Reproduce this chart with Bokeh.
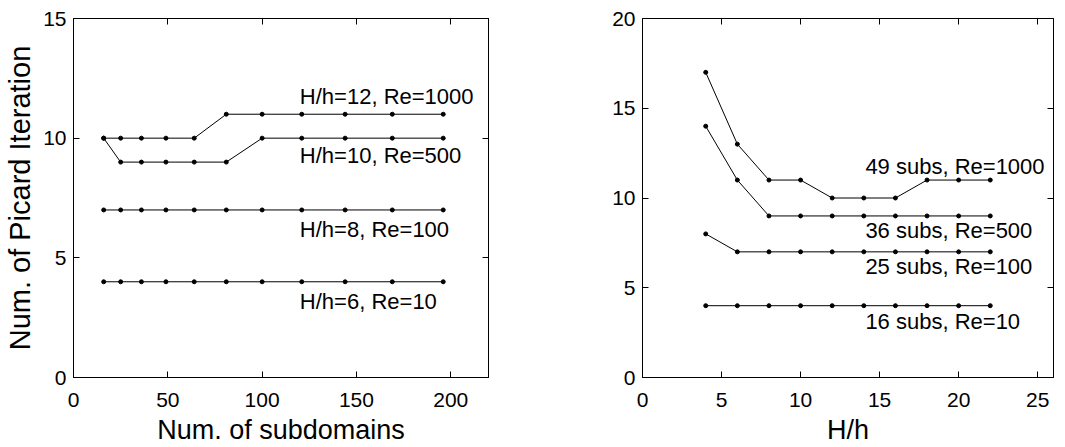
from bokeh.plotting import figure
from bokeh.layouts import row
from bokeh.models import LinearAxis, FixedTicker, Range1d, CustomJSTickFormatter
from bokeh.core.properties import value
from bokeh.embed import file_html
from bokeh.resources import INLINE

FONT = "Liberation Sans"

# Left panel: iterations vs number of subdomains
subdomains = [16, 25, 36, 49, 64, 81, 100, 121, 144, 169, 196]
left_series = {
    "H/h=12, Re=1000": [10, 10, 10, 10, 10, 11, 11, 11, 11, 11, 11],
    "H/h=10, Re=500": [10, 9, 9, 9, 9, 9, 10, 10, 10, 10, 10],
    "H/h=8, Re=100": [7, 7, 7, 7, 7, 7, 7, 7, 7, 7, 7],
    "H/h=6, Re=10": [4, 4, 4, 4, 4, 4, 4, 4, 4, 4, 4],
}
# label anchors (left edge, vertical middle) in data units
left_label_pos = {
    "H/h=12, Re=1000": (120, 11.75),
    "H/h=10, Re=500": (120, 9.27),
    "H/h=8, Re=100": (120, 6.17),
    "H/h=6, Re=10": (120, 3.17),
}

# Right panel: iterations vs H/h
hh = [4, 6, 8, 10, 12, 14, 16, 18, 20, 22]
right_series = {
    "49 subs, Re=1000": [17, 13, 11, 11, 10, 10, 10, 11, 11, 11],
    "36 subs, Re=500": [14, 11, 9, 9, 9, 9, 9, 9, 9, 9],
    "25 subs, Re=100": [8, 7, 7, 7, 7, 7, 7, 7, 7, 7],
    "16 subs, Re=10": [4, 4, 4, 4, 4, 4, 4, 4, 4, 4],
}
right_label_pos = {
    "49 subs, Re=1000": (14.1, 11.75),
    "36 subs, Re=500": (14.1, 8.19),
    "25 subs, Re=100": (14.1, 6.19),
    "16 subs, Re=10": (14.1, 3.14),
}

left_xticks = [0, 50, 100, 150, 200]
left_yticks = [0, 5, 10, 15]
right_xticks = [0, 5, 10, 15, 20, 25]
right_yticks = [0, 5, 10, 15, 20]

BLANK = CustomJSTickFormatter(code="return ''")


def style_axis(ax, ticks, show_labels=True):
    ax.ticker = FixedTicker(ticks=ticks)
    ax.major_tick_in = 6
    ax.major_tick_out = 0
    ax.minor_tick_in = 0
    ax.minor_tick_out = 0
    ax.axis_line_color = "black"
    ax.major_tick_line_color = "black"
    ax.major_label_text_font = FONT
    ax.major_label_text_font_size = "21px"
    ax.major_label_text_color = "black"
    ax.axis_label_text_font = FONT
    ax.axis_label_text_font_size = "27px"
    ax.axis_label_text_font_style = "normal"
    ax.axis_label_text_color = "black"
    if not show_labels:
        ax.formatter = BLANK
        ax.major_label_standoff = 0


def make_panel(x, series, label_pos, xr, yr, xticks, yticks, xlabel, ylabel,
               width, border_left, border_right):
    p = figure(width=width, height=447, output_backend="svg", toolbar_location=None,
               x_range=Range1d(*xr), y_range=Range1d(*yr),
               min_border_left=border_left, min_border_right=border_right,
               min_border_top=18, min_border_bottom=69)
    p.xgrid.visible = False
    p.ygrid.visible = False
    p.outline_line_color = "black"
    p.outline_line_width = 1
    p.background_fill_color = "white"
    p.border_fill_color = "white"

    style_axis(p.xaxis[0], xticks)
    style_axis(p.yaxis[0], yticks)
    p.xaxis[0].axis_label = xlabel
    p.xaxis[0].major_label_standoff = 15
    p.xaxis[0].axis_label_standoff = 5
    if ylabel:
        p.yaxis[0].axis_label = ylabel
        p.yaxis[0].axis_label_text_font_size = "29px"
        p.yaxis[0].axis_label_standoff = 4
    p.yaxis[0].major_label_standoff = 7

    top = LinearAxis()
    style_axis(top, xticks, show_labels=False)
    p.add_layout(top, "above")
    right = LinearAxis()
    style_axis(right, yticks, show_labels=False)
    p.add_layout(right, "right")

    for name, ys in series.items():
        p.line(x, ys, line_color="black", line_width=1)
        p.scatter(x, ys, size=4, fill_color="black", line_color="black")
        lx, ly = label_pos[name]
        p.text([lx], [ly], text=[name], text_font=value(FONT), text_font_size="22px",
               text_color="black", text_align="left", text_baseline="middle")
    return p


p1 = make_panel(subdomains, left_series, left_label_pos, (0, 220), (0, 15),
                left_xticks, left_yticks, "Num. of subdomains", "Num. of Picard Iteration",
                535, 73, 47)
p2 = make_panel(hh, right_series, right_label_pos, (0, 26), (0, 20),
                right_xticks, right_yticks, "H/h", None,
                530, 107, 12)

layout = row(p1, p2)
open("out.html", "w").write(file_html(layout, INLINE))
